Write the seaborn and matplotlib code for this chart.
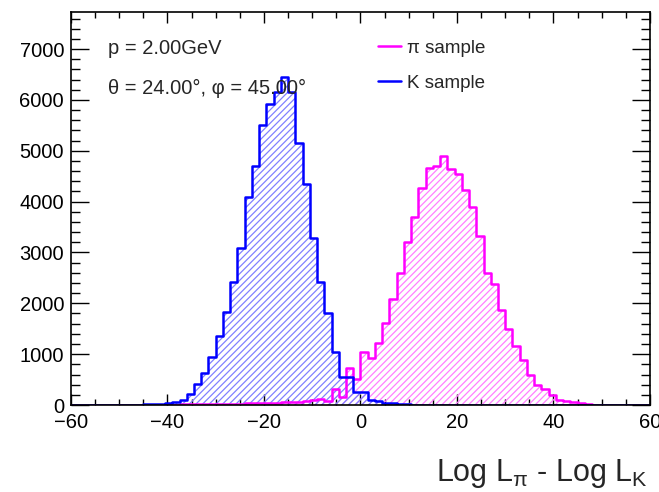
import numpy as np
import pandas as pd
import seaborn as sns
import matplotlib.pyplot as plt
from matplotlib.lines import Line2D
from matplotlib.ticker import MultipleLocator

# binning: 80 bins of width 1.5 between -60 and 60
edges = list(np.linspace(-60, 60, 81))
centers = [0.5 * (a + b) for a, b in zip(edges[:-1], edges[1:])]

pi_counts = [0, 0, 0, 0, 0, 0, 0, 0, 0, 0, 0, 0,
             5, 8, 10, 12, 15, 15, 18, 20, 20, 22,
             25, 25, 30, 30, 35, 40, 45, 50, 55, 60,
             70, 100, 110, 70, 310, 160, 730, 520, 1050, 919,
             1214, 1608, 2080, 2592, 3215, 3707, 4265, 4659, 4705, 4888,
             4639, 4541, 4232, 3904, 3330, 2605, 2385, 1870, 1500, 1170,
             886, 600, 400, 310, 200, 105, 75, 50, 30, 15,
             8, 3, 0, 0, 0, 0, 0, 0]

k_counts = [0, 0, 0,
            3, 5, 5, 8, 8, 10, 10, 12, 15, 20,
            30, 50, 100, 210, 420, 636, 950, 1350, 1830, 2420,
            3084, 4101, 4705, 5512, 5919, 6155, 6450, 6155, 5151, 4350,
            3281, 2428, 1800, 1045, 557, 557, 262, 250, 90, 85,
            35, 33, 15, 12, 8, 5, 3, 3, 2, 2,
            0, 0, 0, 0, 0, 0, 0, 0, 0, 0, 0, 0, 0, 0,
            0, 0, 0, 0, 0, 0, 0, 0, 0, 0, 0, 0, 0]

labels = ["\u03c0 sample", "K sample"]
colors = ["#ff00ff", "#0000ff"]
hatch_colors = ["#ff80ff", "#8080ff"]

sns.set_style("ticks")
plt.rcParams["font.family"] = ["Liberation Sans", "DejaVu Sans"]
plt.rcParams["mathtext.default"] = "regular"
plt.rcParams["hatch.linewidth"] = 0.9

fig = plt.figure(figsize=(6.59, 4.92), dpi=100)
ax = fig.add_axes([0.1077, 0.1768, 0.8786, 0.7988])

for counts, col, hcol in zip([pi_counts, k_counts], colors, hatch_colors):
    df = pd.DataFrame({"x": centers, "w": counts})
    # hatched fill
    sns.histplot(data=df, x="x", weights="w", bins=edges, element="step",
                 fill=True, color=col, facecolor="none", edgecolor=hcol,
                 hatch="/////", linewidth=0, ax=ax)
    # outline
    sns.histplot(data=df, x="x", weights="w", bins=edges, element="step",
                 fill=False, color=col, linewidth=1.8, ax=ax)

ax.set_xlim(-60, 60)
ax.set_ylim(0, 7730)
ax.set_ylabel("")
ax.set_xlabel("")

ax.xaxis.set_major_locator(MultipleLocator(20))
ax.xaxis.set_minor_locator(MultipleLocator(5))
ax.yaxis.set_major_locator(MultipleLocator(1000))
ax.yaxis.set_minor_locator(MultipleLocator(200))
ax.tick_params(axis="both", which="both", direction="in", top=True, right=True,
               labelsize=14.5, width=1.0, colors="black")
ax.tick_params(axis="x", which="major", length=8, pad=6)
ax.tick_params(axis="x", which="minor", length=4)
ax.tick_params(axis="y", which="major", length=13, pad=5)
ax.tick_params(axis="y", which="minor", length=6.5)
for s in ax.spines.values():
    s.set_linewidth(1.2)
    s.set_color("black")

ax.text(0.064, 0.906, "p = 2.00GeV", transform=ax.transAxes, fontsize=14.5,
        va="center", ha="left")
ax.text(0.064, 0.806, "\u03b8 = 24.00\u00b0, \u03c6 = 45.00\u00b0",
        transform=ax.transAxes, fontsize=14.5, va="center", ha="left")

handles = [Line2D([], [], color=c, lw=1.8) for c in colors]
ax.legend(handles, labels, loc="upper left", bbox_to_anchor=(0.530, 0.929),
          frameon=False, fontsize=13.5, handlelength=1.25, handletextpad=0.3,
          labelspacing=0.95, borderpad=0, borderaxespad=0)

fig.text(648 / 659, 0.022, "Log L$_{\\pi}$ - Log L$_{K}$", ha="right",
         va="baseline", fontsize=22)

fig.savefig("out.png", dpi=100)
